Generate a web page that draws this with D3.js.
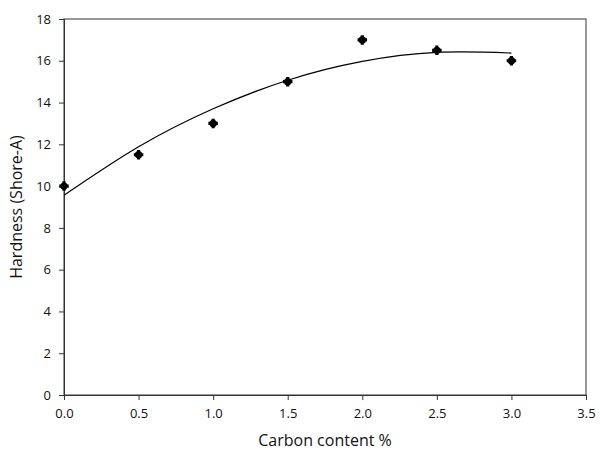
<!DOCTYPE html>
<html>
<head>
<meta charset="utf-8">
<script src="https://cdn.jsdelivr.net/npm/d3@7"></script>
<style>
  body { margin: 0; background: #fff; }
  text { font-family: "Open Sans", "Noto Sans", sans-serif; fill: #111; }
</style>
</head>
<body>
<div id="chart"></div>
<script>
// measured points
var carbon = [0, 0.5, 1.0, 1.5, 2.0, 2.5, 3.0]
var hardness = [10, 11.5, 13, 15, 17, 16.5, 16]

// fitted curve
var fitX = [0, 0.5, 1.0, 1.5, 2.0, 2.5, 3.0]
var fitY = [9.56, 11.88, 13.70, 15.07, 15.97, 16.40, 16.37]

var xTicks = [0, 0.5, 1.0, 1.5, 2.0, 2.5, 3.0, 3.5]
var yTicks = [0, 2, 4, 6, 8, 10, 12, 14, 16, 18]

var width = 600
var height = 465
var margin = {top: 19, right: 14, bottom: 70, left: 64}

var svg = d3.select('#chart').append('svg')
    .attr('width', width)
    .attr('height', height)

var x = d3.scaleLinear()
    .domain([0, 3.5])
    .range([margin.left, width - margin.right])
var y = d3.scaleLinear()
    .domain([0, 18])
    .range([height - margin.bottom, margin.top])

var axisColor = '#333'

// frame (top + right)
svg.append('rect')
    .attr('x', x(0))
    .attr('y', y(18))
    .attr('width', x(3.5) - x(0))
    .attr('height', y(0) - y(18))
    .attr('fill', 'none')
    .attr('stroke', axisColor)
    .attr('stroke-width', 1)

var xAxis = svg.append('g')
    .attr('transform', 'translate(0,' + y(0) + ')')
    .call(d3.axisBottom(x).tickValues(xTicks).tickFormat(d3.format('.1f')).tickSize(5).tickPadding(9))
var yAxis = svg.append('g')
    .attr('transform', 'translate(' + x(0) + ',0)')
    .call(d3.axisLeft(y).tickValues(yTicks).tickSize(5).tickPadding(8))

;[xAxis, yAxis].forEach(function(g) {
    g.select('.domain').attr('stroke', axisColor)
    g.selectAll('.tick line').attr('stroke', axisColor)
    g.selectAll('.tick text')
        .attr('font-size', 13)
        .attr('font-family', '"Open Sans", sans-serif')
        .attr('fill', '#111')
})

// fit curve
var fit = fitX.map(function(d, i) { return [d, fitY[i]] })
svg.append('path')
    .datum(fit)
    .attr('fill', 'none')
    .attr('stroke', '#000')
    .attr('stroke-width', 1.2)
    .attr('d', d3.line()
        .x(function(d) { return x(d[0]) })
        .y(function(d) { return y(d[1]) })
        .curve(d3.curveNatural))

// markers
var pts = svg.append('g').selectAll('g')
    .data(carbon.map(function(d, i) { return [d, hardness[i]] }))
    .enter()
    .append('g')
    .attr('transform', function(d) { return 'translate(' + x(d[0]) + ',' + y(d[1]) + ')' })
pts.append('path')
    .attr('d', d3.symbol().type(d3.symbolCross).size(50))
    .attr('fill', '#000')
pts.append('circle')
    .attr('r', 3.7)
    .attr('fill', '#000')

// axis titles
svg.append('text')
    .attr('x', (x(0) + x(3.5)) / 2)
    .attr('y', 446)
    .attr('text-anchor', 'middle')
    .attr('font-size', 16)
    .text('Carbon content %')

svg.append('text')
    .attr('transform', 'translate(22,' + (y(0) + y(18)) / 2 + ') rotate(-90)')
    .attr('text-anchor', 'middle')
    .attr('font-size', 16)
    .text('Hardness (Shore-A)')
</script>
</body>
</html>
